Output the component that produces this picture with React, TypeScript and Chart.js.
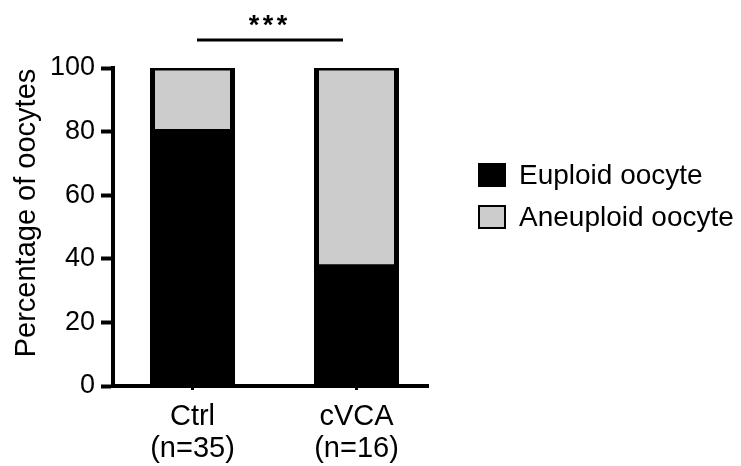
import React, { useEffect, useRef } from "react";
import { Chart, registerables } from "chart.js";

Chart.register(...registerables);

const categories: string[][] = [["Ctrl", "(n=35)"], ["cVCA", "(n=16)"]];
const euploid: number[] = [80, 37.5];
const aneuploid: number[] = [20, 62.5];
const yTicks: number[] = [0, 20, 40, 60, 80, 100];
const seriesNames: string[] = ["Euploid oocyte", "Aneuploid oocyte"];
const seriesColors: string[] = ["#000000", "#cccccc"];
const yTitle = "Percentage of oocytes";
const significance = "***";

const FONT = '"Liberation Sans", Arial, Helvetica, sans-serif';

export default function App() {
  const ref = useRef<HTMLCanvasElement>(null);

  useEffect(() => {
    const canvas = ref.current!;
    const extras = {
      id: "extras",
      afterDraw(chart: any) {
        const ctx = chart.ctx as CanvasRenderingContext2D;
        ctx.save();
        ctx.fillStyle = "#000";
        // y-axis title
        ctx.save();
        ctx.font = `29px ${FONT}`;
        ctx.textAlign = "center";
        ctx.textBaseline = "middle";
        ctx.translate(27, 213);
        ctx.rotate(-Math.PI / 2);
        ctx.fillText(yTitle, 0, 0);
        ctx.restore();

        // significance bracket
        ctx.fillRect(197, 38.5, 146, 3);
        ctx.font = `bold 27px ${FONT}`;
        ctx.textAlign = "center";
        ctx.textBaseline = "alphabetic";
        const chars = significance.split("");
        chars.forEach((c, i) => {
          ctx.fillText(c, 268 + (i - (chars.length - 1) / 2) * 14, 34);
        });

        // legend
        ctx.font = `28px ${FONT}`;
        ctx.textAlign = "left";
        ctx.textBaseline = "middle";
        seriesNames.forEach((name, i) => {
          const y = 163 + i * 42;
          ctx.fillStyle = seriesColors[i];
          ctx.fillRect(478, y, 28, 24);
          ctx.strokeStyle = "#000";
          ctx.lineWidth = 2;
          ctx.strokeRect(479, y + 1, 26, 22);
          ctx.fillStyle = "#000";
          ctx.fillText(name, 519, y + 13);
        });
        ctx.restore();
      },
    };

    const chart = new Chart(canvas, {
      type: "bar",
      data: {
        datasets: [
          {
            label: seriesNames[0],
            data: euploid.map((v, i) => ({ x: i, y: v })),
            backgroundColor: seriesColors[0],
            borderWidth: 0,
            barThickness: 80,
            inflateAmount: 2.5,
          },
          {
            label: seriesNames[1],
            data: aneuploid.map((v, i) => ({ x: i, y: v })),
            backgroundColor: seriesColors[1],
            borderColor: "#000",
            borderWidth: { top: 5, left: 5, right: 5, bottom: 0 },
            borderSkipped: false,
            barThickness: 80,
            inflateAmount: 2.5,
          },
        ] as any,
      },
      options: {
        responsive: false,
        animation: false,
        layout: { padding: { top: 68, right: 313, bottom: 0, left: 0 } },
        plugins: {
          legend: { display: false },
          tooltip: { enabled: false },
        },
        scales: {
          x: {
            type: "linear",
            stacked: true,
            min: -0.4848,
            max: 1.436,
            offset: false,
            afterBuildTicks: (s: any) => {
              s.ticks = categories.map((_, i) => ({ value: i }));
            },
            afterFit: (s: any) => {
              s.height = 80;
            },
            grid: {
              display: true,
              offset: false,
              drawOnChartArea: false,
              drawTicks: true,
              tickLength: 4,
              tickWidth: 3,
              tickColor: "#000",
            },
            border: { display: true, color: "#000", width: 4 },
            ticks: {
              autoSkip: false,
              maxRotation: 0,
              color: "#000",
              padding: 11,
              font: { family: FONT, size: 29, lineHeight: 1.1 },
              callback: (v: any) => categories[Math.round(Number(v))] ?? "",
            },
          },
          y: {
            type: "linear",
            stacked: true,
            min: 0,
            max: 100,
            afterBuildTicks: (s: any) => {
              s.ticks = yTicks.map((v) => ({ value: v }));
            },
            afterFit: (s: any) => {
              s.width = 113;
            },
            grid: {
              display: true,
              drawOnChartArea: false,
              drawTicks: true,
              tickLength: 12,
              tickWidth: 4,
              tickColor: "#000",
            },
            border: { display: true, color: "#000", width: 4 },
            ticks: {
              color: "#000",
              padding: 6,
              font: { family: FONT, size: 27 },
            },
          },
        },
      } as any,
      plugins: [extras],
    });
    return () => chart.destroy();
  }, []);

  return (
    <canvas
      ref={ref}
      width={741}
      height={466}
      style={{ position: "absolute", left: 0, top: 0, display: "block" }}
    />
  );
}
